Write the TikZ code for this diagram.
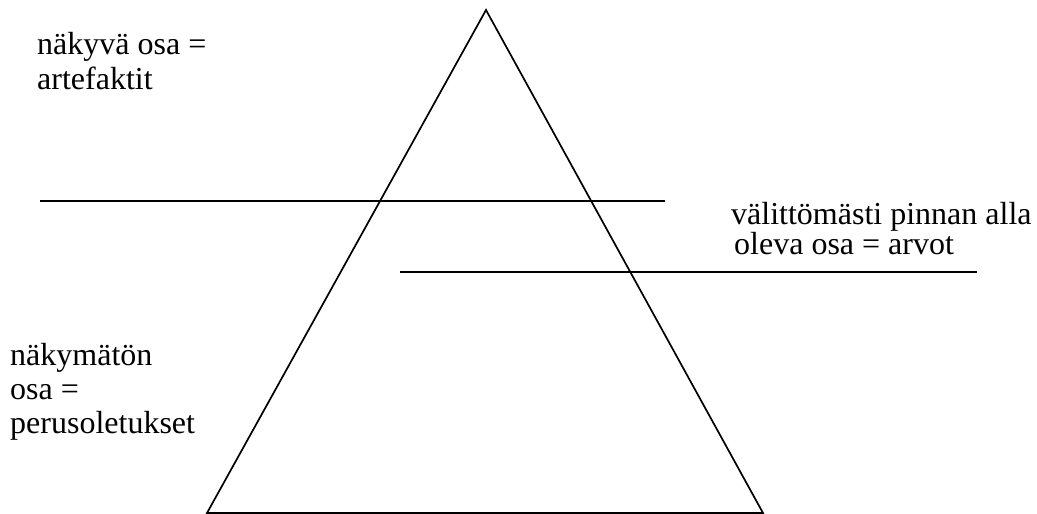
\documentclass[tikz,border=0pt]{standalone}
\usepackage{fontspec}
\setmainfont{Liberation Serif}
\begin{document}
\begin{tikzpicture}[x=1pt,y=-1pt,
  lbl/.style={anchor=base west,inner sep=0pt,font=\fontsize{32}{34}\selectfont},
  ln/.style={line width=1.7pt}]
\useasboundingbox (0,0) rectangle (1037,514);
\coordinate (apex) at (486,10);
\coordinate (bl) at (207,513);
\coordinate (br) at (763,513);
\draw[ln,line join=miter] (apex) -- (br) -- (bl) -- cycle;
\coordinate (l1a) at (40,201);
\coordinate (l1b) at (665,201);
\coordinate (l2a) at (400,272);
\coordinate (l2b) at (977,272);
\draw[ln] (l1a) -- (l1b);
\draw[ln] (l2a) -- (l2b);
\node[lbl] (t1a) at (37,54) {näkyvä osa =};
\node[lbl] (t1b) at (37,89) {artefaktit};
\node[lbl] (t2a) at (731,224) {välittömästi pinnan alla};
\node[lbl] (t2b) at (734,254) {oleva osa = arvot};
\node[lbl] (t3a) at (10,365) {näkymätön};
\node[lbl] (t3b) at (10,399) {osa =};
\node[lbl] (t3c) at (10,433) {perusoletukset};
\end{tikzpicture}
\end{document}
